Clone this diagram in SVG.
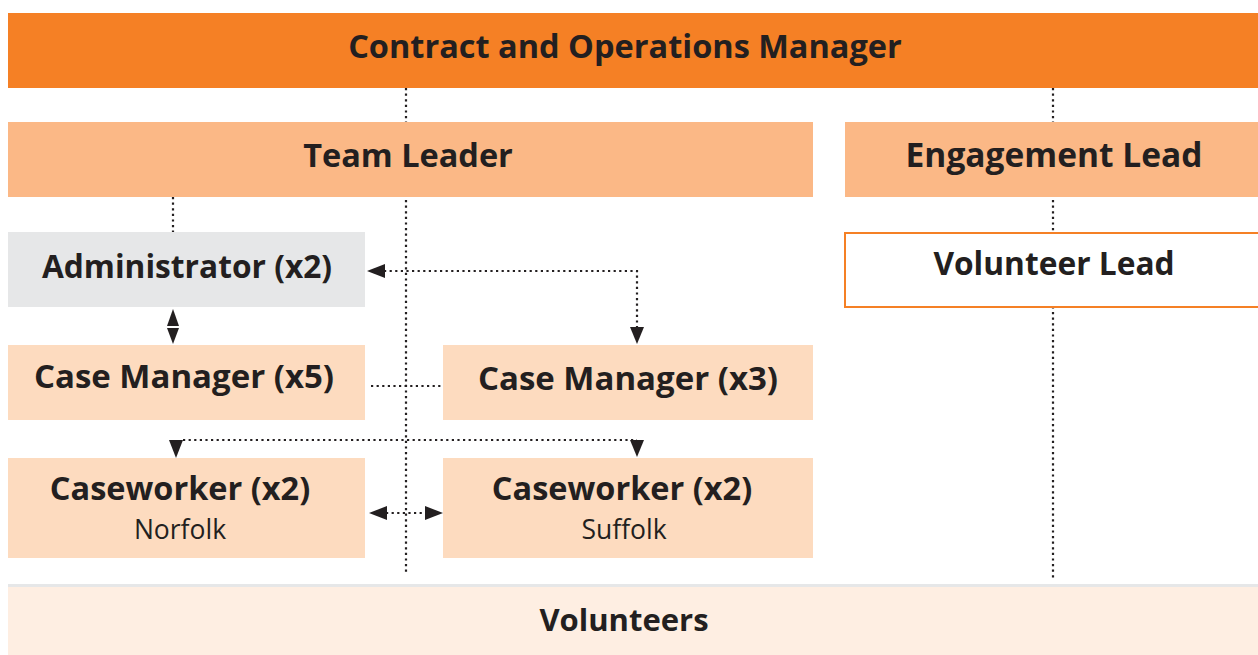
<svg xmlns="http://www.w3.org/2000/svg" width="1258" height="655" viewBox="0 0 1258 655">
<style>
.b{font-family:"Open Sans","Liberation Sans",sans-serif;font-weight:700;font-size:32.5px;fill:#231F20;text-anchor:middle}
.r{font-family:"Open Sans","Liberation Sans",sans-serif;font-weight:400;font-size:26.5px;fill:#231F20;text-anchor:middle}
.d{fill:none;stroke:#231F20;stroke-width:2.2;stroke-dasharray:2.2 3.4}
.ah{fill:#231F20}
</style>
<rect width="1258" height="655" fill="#ffffff"/>
<g id="connectors">
<path class="d" d="M406 88V572"/>
<path class="d" d="M1053 88V578"/>
<path class="d" d="M173 197V232"/>
<path class="d" d="M384 271H637V328"/>
<path class="d" d="M371 386H441"/>
<path class="d" d="M183 440H637"/>
<path class="d" d="M176 440V442"/>
<path class="d" d="M386 513H426"/>
<polygon class="ah" points="367,271 385,264 385,278"/>
<polygon class="ah" points="637,344 630,327 644,327"/>
<polygon class="ah" points="173,309 167,326 179,326"/>
<polygon class="ah" points="173,344 167,328 179,328"/>
<polygon class="ah" points="176,458 169,440 183,440"/>
<polygon class="ah" points="637,457 630,440 644,440"/>
<polygon class="ah" points="369,513 387,506 387,520"/>
<polygon class="ah" points="443,513 425,506 425,520"/>
</g>
<g id="contract-ops-manager">
<rect x="8" y="13" width="1250" height="75" fill="#F58025"/>
<text class="b" x="625" y="58">Contract and Operations Manager</text>
</g>
<g id="team-leader">
<rect x="8" y="122" width="805" height="75" fill="#FBB886"/>
<text class="b" x="408" y="167">Team Leader</text>
</g>
<g id="engagement-lead">
<rect x="845" y="122" width="413" height="75" fill="#FBB886"/>
<text class="b" x="1054" y="167" style="font-size:33.5px">Engagement Lead</text>
</g>
<g id="administrator">
<rect x="8" y="232" width="357" height="75" fill="#E6E7E8"/>
<text class="b" x="187" y="278" style="font-size:31.7px">Administrator (x2)</text>
</g>
<g id="volunteer-lead">
<rect x="845" y="233" width="420" height="74" fill="#ffffff" stroke="#F58025" stroke-width="2"/>
<text class="b" x="1054" y="275" style="font-size:31.7px">Volunteer Lead</text>
</g>
<g id="case-manager-5">
<rect x="8" y="345" width="357" height="75" fill="#FDDBBF"/>
<text class="b" x="184" y="388" style="font-size:33px">Case Manager (x5)</text>
</g>
<g id="case-manager-3">
<rect x="443" y="345" width="370" height="75" fill="#FDDBBF"/>
<text class="b" x="628" y="390" style="font-size:33px">Case Manager (x3)</text>
</g>
<g id="caseworker-norfolk">
<rect x="8" y="458" width="357" height="100" fill="#FDDBBF"/>
<text class="b" x="180" y="500">Caseworker (x2)</text>
<text class="r" x="180" y="539">Norfolk</text>
</g>
<g id="caseworker-suffolk">
<rect x="443" y="458" width="370" height="100" fill="#FDDBBF"/>
<text class="b" x="622" y="500">Caseworker (x2)</text>
<text class="r" x="624" y="539">Suffolk</text>
</g>
<g id="volunteers">
<rect x="8" y="584" width="1250" height="3" fill="#E6E7E8"/>
<rect x="8" y="587" width="1250" height="68" fill="#FEEEE2"/>
<text class="b" x="624" y="631" style="font-size:31px">Volunteers</text>
</g>
</svg>
